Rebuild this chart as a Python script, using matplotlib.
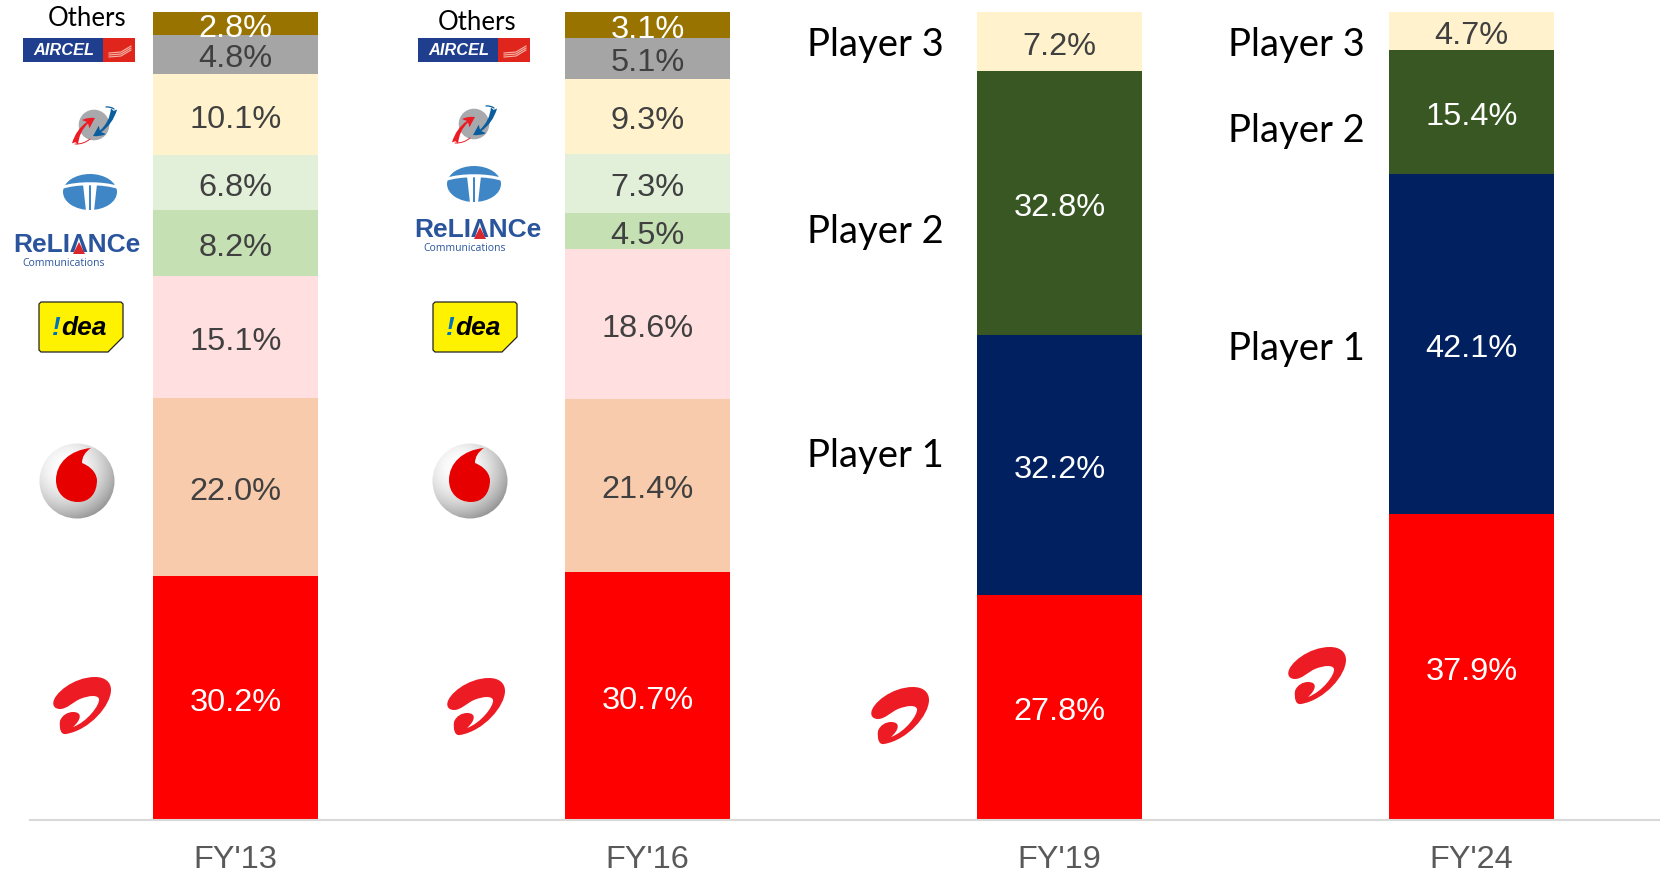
import numpy as np
import matplotlib
matplotlib.use("Agg")
import matplotlib.pyplot as plt
from matplotlib.patches import Circle, Ellipse, FancyArrowPatch, PathPatch, Polygon, Rectangle
from matplotlib.path import Path

W, H = 1660, 872

# data
years = ["FY'13", "FY'16", "FY'19", "FY'24"]
fy13 = [30.2, 22.0, 15.1, 8.2, 6.8, 10.1, 4.8, 2.8]
fy16 = [30.7, 21.4, 18.6, 4.5, 7.3, 9.3, 5.1, 3.1]
fy19 = [27.8, 32.2, 32.8, 7.2]
fy24 = [37.9, 42.1, 15.4, 4.7]
player_names = ["Player 1", "Player 2", "Player 3"]

RED = "#FF0000"
colors_old = [RED, "#F7CBAC", "#FFDFDF", "#C5E0B3", "#E2EFD9", "#FFF2CC", "#A5A5A5", "#997300"]
text_old = ["white", "#404040", "#404040", "#404040", "#404040", "#404040", "#404040", "white"]
colors_new = [RED, "#002060", "#385723", "#FFF2CC"]
text_new = ["white", "white", "white", "#404040"]

plt.rcParams["font.family"] = ["Liberation Sans", "DejaVu Sans"]

fig = plt.figure(figsize=(W / 100, H / 100), dpi=100)
ax = fig.add_axes([30 / W, (H - 819.5) / H, (W - 30) / W, 807 / H])
ax.set_xlim((30 - 235.5) / 412, (W - 235.5) / 412)
ax.set_ylim(0, 100)

series = [(fy13, colors_old, text_old), (fy16, colors_old, text_old),
          (fy19, colors_new, text_new), (fy24, colors_new, text_new)]
for i, (vals, cols, tcols) in enumerate(series):
    bottom = 0
    for v, c, tc in zip(vals, cols, tcols):
        ax.bar(i, v, width=0.4, bottom=bottom, color=c, linewidth=0, clip_on=False)
        ax.annotate(f"{v:.1f}%", (i, bottom + v / 2), xytext=(0, -5), textcoords="offset pixels",
                    ha="center", va="center", fontsize=23.4, color=tc)
        bottom += v

for s in ["top", "left", "right"]:
    ax.spines[s].set_visible(False)
ax.spines["bottom"].set_color("#D9D9D9")
ax.spines["bottom"].set_linewidth(1.5)
ax.set_yticks([])
ax.set_xticks(range(4))
ax.set_xticklabels(years, fontsize=23.4, color="#595959")
ax.tick_params(axis="x", length=0, pad=18)

# logos are drawn on a second axes in pixel coordinates
lg = fig.add_axes([0, 0, 1, 1])
lg.set_xlim(0, W)
lg.set_ylim(H, 0)
lg.axis("off")
lg.patch.set_alpha(0)


def curve(cx, cy, pts, color, z=3):
    # pts is a start point then groups of three bezier points, around the logo centre
    verts = [(cx + x, cy + y) for x, y in pts]
    codes = [Path.MOVETO] + [Path.CURVE4] * (len(verts) - 1)
    lg.add_patch(PathPatch(Path(verts, codes), facecolor=color, edgecolor="none", zorder=z))


def airtel(cx, cy):
    pts = [(-27.7, -4), (-27.7, -13), (-7.7, -30), (14, -30),
           (24, -30), (30, -25), (30, -17),
           (30, -2), (9, 23), (-15, 27),
           (-20, 28), (-22, 22), (-21, 14),
           (-19, 8), (-13, 5), (-8, 5),
           (2, 5), (0, 13), (-8, 20),
           (6, 15), (19, -2), (18, -8),
           (17, -12), (9, -12), (-1, -8),
           (-8, -5), (-14, 2), (-21, 2),
           (-26, 2), (-28, -1), (-27.7, -4)]
    curve(cx, cy, pts, "#ED1C24")


def vodafone(cx, cy):
    yy, xx = np.mgrid[-1:1:160j, -1:1:160j]
    shade = np.clip(1.0 - 0.2 * ((xx + 0.3) ** 2 + (yy + 0.35) ** 2), 0, 1)
    im = lg.imshow(shade, cmap="gray", vmin=0, vmax=1, extent=(cx - 38, cx + 38, cy + 38, cy - 38),
                   interpolation="bilinear", zorder=3)
    im.set_clip_path(Circle((cx, cy), 37.5, transform=lg.transData))
    pts = [(14, -33), (-7, -31), (-21, -18), (-21, -1),
           (-21, 12), (-12, 21), (1, 21),
           (13, 21), (20, 12), (20, -1),
           (19, -11), (10, -16), (5, -18),
           (5, -24), (8, -29), (14, -33)]
    curve(cx, cy, pts, "#E60000", z=4)


def idea(cx, cy):
    x0, x1, y0, y1 = cx - 42, cx + 42, cy - 25, cy + 25
    lg.add_patch(Polygon([(x0 + 2, y0), (x1 - 2, y0), (x1, y0 + 2), (x1, y1 - 15), (x1 - 15, y1),
                          (x0 + 2, y1), (x0, y1 - 2), (x0, y0 + 2)],
                         closed=True, facecolor="#FFF200", edgecolor="#222222", linewidth=0.9, zorder=3))
    lg.text(cx - 25, cy + 1, "!", fontsize=19, fontweight="bold", style="italic", color="#0072BC",
            ha="center", va="center", zorder=4)
    lg.text(cx + 3, cy + 1, "dea", fontsize=19, fontweight="bold", style="italic", color="black",
            ha="center", va="center", zorder=4)


def tata(cx, cy):
    blue = "#3F86C6"
    lg.add_patch(Ellipse((cx, cy), 54, 36, facecolor=blue, edgecolor="none", zorder=3))
    curve(cx, cy, [(-28, -6), (-14, -11), (14, -11), (28, -6),
                   (28, -3), (28, -3), (28, -3),
                   (14, -8), (-14, -8), (-28, -3),
                   (-28, -3), (-28, -3), (-28, -6)], "white", z=4)
    lg.add_patch(Polygon([(cx - 7, cy - 8), (cx - 1, cy - 8), (cx - 1, cy + 19), (cx - 4, cy + 19)],
                         closed=True, facecolor="white", edgecolor="none", zorder=4))
    lg.add_patch(Polygon([(cx + 1, cy - 8), (cx + 7, cy - 8), (cx + 4, cy + 19), (cx + 1, cy + 19)],
                         closed=True, facecolor="white", edgecolor="none", zorder=4))


def bsnl(cx, cy):
    lg.add_patch(Circle((cx, cy), 15.3, facecolor="#A7A9AC", edgecolor="none", zorder=3))
    for a, b, col in [((cx - 19, cy + 19), (cx + 1, cy - 7), "#ED1C24"),
                      ((cx + 20, cy - 16), (cx - 1, cy + 11), "#0B5E9E")]:
        lg.add_patch(FancyArrowPatch(a, b, connectionstyle="arc3,rad=-0.25",
                                     arrowstyle="fancy,head_length=0.8,head_width=0.8,tail_width=0.45",
                                     mutation_scale=10, color=col, linewidth=0, zorder=4,
                                     shrinkA=0, shrinkB=0))
    lg.add_patch(FancyArrowPatch((cx - 19, cy + 19), (cx - 4, cy + 14), connectionstyle="arc3,rad=0.2",
                                 arrowstyle="-", color="#ED1C24", linewidth=0.7, zorder=4,
                                 shrinkA=0, shrinkB=0))
    lg.add_patch(FancyArrowPatch((cx + 20, cy - 16), (cx + 12, cy - 18), connectionstyle="arc3,rad=0.2",
                                 arrowstyle="-", color="#0B5E9E", linewidth=0.9, zorder=4,
                                 shrinkA=0, shrinkB=0))


def reliance(cx, cy):
    blue = "#2A559D"
    lg.text(cx, cy, "ReLIΛNCe", fontsize=19, fontweight="bold", color=blue, ha="center", va="center", zorder=3)
    lg.add_patch(Polygon([(cx - 4, cy + 9), (cx + 8, cy + 9), (cx + 2, cy - 3)],
                         closed=True, facecolor="#D9262B", edgecolor="none", zorder=4))
    lg.text(cx - 13.5, cy + 18, "Communications", fontsize=7.5, color=blue, family="Open Sans",
            ha="center", va="center", zorder=3)


def aircel(x0, y0):
    lg.add_patch(Rectangle((x0, y0), 80, 24, facecolor="#1F3E8E", edgecolor="none", zorder=3))
    lg.add_patch(Rectangle((x0 + 80, y0), 32, 24, facecolor="#E0261C", edgecolor="none", zorder=3))
    lg.text(x0 + 41, y0 + 12.5, "AIRCEL", fontsize=11.8, fontweight="bold", style="italic", color="white",
            ha="center", va="center", zorder=4)
    for k in range(3):
        lg.plot([x0 + 86, x0 + 98, x0 + 108], [y0 + 15 + k * 2, y0 + 14 + k * 2, y0 + 8 + k * 2],
                color="#F7B5A8", linewidth=0.8, zorder=4)


lg.text(87, 19, "Others", fontsize=18.5, family="Lato", color="black", ha="center", va="center")
aircel(23, 38)
bsnl(94, 125)
tata(90, 192)
reliance(77, 245)
idea(81, 327)
vodafone(77, 481)
airtel(81, 707)

lg.text(477, 22, "Others", fontsize=18.5, family="Lato", color="black", ha="center", va="center")
aircel(418, 38)
bsnl(474, 124)
tata(474, 184)
reliance(478, 230)
idea(475, 327)
vodafone(470, 481)
airtel(475, 708)

airtel(899, 717)
airtel(1316, 677)

for name, y in zip(player_names, [456, 232, 45]):
    lg.text(875, y, name, fontsize=27.5, family="Lato", color="black", ha="center", va="center")
for name, y in zip(player_names, [349, 131, 45]):
    lg.text(1296, y, name, fontsize=27.5, family="Lato", color="black", ha="center", va="center")

lg.set_xlim(0, W)
lg.set_ylim(H, 0)
lg.set_aspect("auto")
fig.savefig("out.png", dpi=100, facecolor="white")
